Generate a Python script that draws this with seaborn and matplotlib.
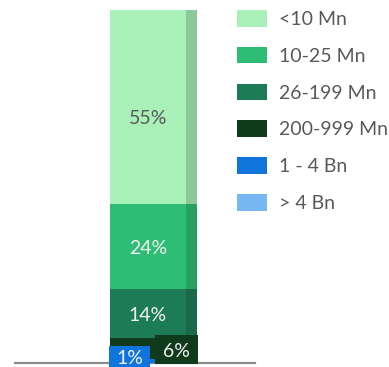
import matplotlib
matplotlib.use("Agg")
import matplotlib.pyplot as plt
from matplotlib.patches import Patch, Rectangle
import pandas as pd
import seaborn as sns

# Company size tiers and their share of the total (bottom of stack first)
tiers = ["1 - 4 Bn", "200-999 Mn", "26-199 Mn", "10-25 Mn", "<10 Mn"]
shares = [1, 6, 14, 24, 55]
face_colors = ["#0F74DC", "#0F3A1C", "#1D7C56", "#2DBD74", "#A9F0B9"]
side_colors = ["#0C63BC", "#0C3018", "#19694A", "#25A262", "#8DC89B"]
label_colors = ["#F2F2F2", "#F2F2F2", "#F2F2F2", "#F2F2F2", "#595959"]

# Legend order (top to bottom)
legend_tiers = ["<10 Mn", "10-25 Mn", "26-199 Mn", "200-999 Mn", "1 - 4 Bn", "> 4 Bn"]
legend_colors = ["#A9F0B9", "#2DBD74", "#1D7C56", "#0F3A1C", "#0F74DC", "#77B8F4"]

df = pd.DataFrame({"tier": tiers, "share": shares,
                   "face": face_colors, "side": side_colors, "txt": label_colors})
df["top"] = df["share"].cumsum()
df["mid"] = df["top"] - df["share"] / 2

sns.set_theme(style="white")
plt.rcParams["font.family"] = ["Lato", "DejaVu Sans"]
FS = 14

fig = plt.figure(figsize=(3.89, 3.67), dpi=100)
ax = fig.add_axes([15 / 389, 4 / 367, 240 / 389, 353 / 367])

front_w = 1.0
side_w = 11 / 76
# Draw cumulative layers from the top down so smaller stacks overlay larger ones
for _, row in df.iloc[::-1].iterrows():
    sns.barplot(x=[0.5 + side_w / 2], y=[row["top"]], native_scale=True, orient="x",
                width=side_w, color=row["side"], saturation=1, linewidth=0,
                errorbar=None, ax=ax)
    sns.barplot(x=[0.0], y=[row["top"]], native_scale=True, orient="x",
                width=front_w, color=row["face"], saturation=1, linewidth=0,
                errorbar=None, ax=ax)

# In-bar labels for the larger segments (the top one sits a little lower)
top_tier = df["tier"].iloc[-1]
for _, row in df[df["share"] >= 10].iterrows():
    y = row["mid"] - (2.8 if row["tier"] == top_tier else 0.0)
    ax.text(0.0, y, f"{row['share']}%", ha="center", va="center_baseline",
            fontsize=FS, color=row["txt"])

# Boxed labels for the thin segments at the base
small = df.set_index("tier")
ax.add_patch(Rectangle((-0.513, -2.2), 0.539, 7.0, fc=small.loc["1 - 4 Bn", "face"],
                       ec="none", clip_on=False, zorder=5))
ax.text(-0.243, 1.2, f"{small.loc['1 - 4 Bn', 'share']}%", ha="center",
        va="center", fontsize=FS, color="#F2F2F2", clip_on=False, zorder=6)
ax.add_patch(Rectangle((0.092, -0.3), 0.566, 8.2, fc=small.loc["200-999 Mn", "face"],
                       ec="none", clip_on=False, zorder=5))
ax.text(0.375, 3.8, f"{small.loc['200-999 Mn', 'share']}%", ha="center",
        va="center_baseline", fontsize=FS, color="#F2F2F2", clip_on=False, zorder=6)

ax.set_xlim(-1.75, 1.408)
ax.set_ylim(0, 100)
ax.set_xticks([])
ax.set_yticks([])
ax.set_xlabel("")
ax.set_ylabel("")
for side in ["top", "right", "left"]:
    ax.spines[side].set_visible(False)
ax.spines["bottom"].set_color("#8C8C8C")
ax.spines["bottom"].set_linewidth(1.6)
ax.spines["bottom"].set_zorder(0)

handles = [Patch(facecolor=c, edgecolor="none", label=t)
           for t, c in zip(legend_tiers, legend_colors)]
leg = fig.legend(handles=handles, loc="upper left",
                 bbox_to_anchor=(237 / 389, 1 - 10 / 367), bbox_transform=fig.transFigure,
                 frameon=False, fontsize=FS, handlelength=1.55, handleheight=0.93,
                 handletextpad=0.62, labelspacing=0.97, borderpad=0, borderaxespad=0)
for t in leg.get_texts():
    t.set_color("#595959")

fig.savefig("out.png", dpi=100)
